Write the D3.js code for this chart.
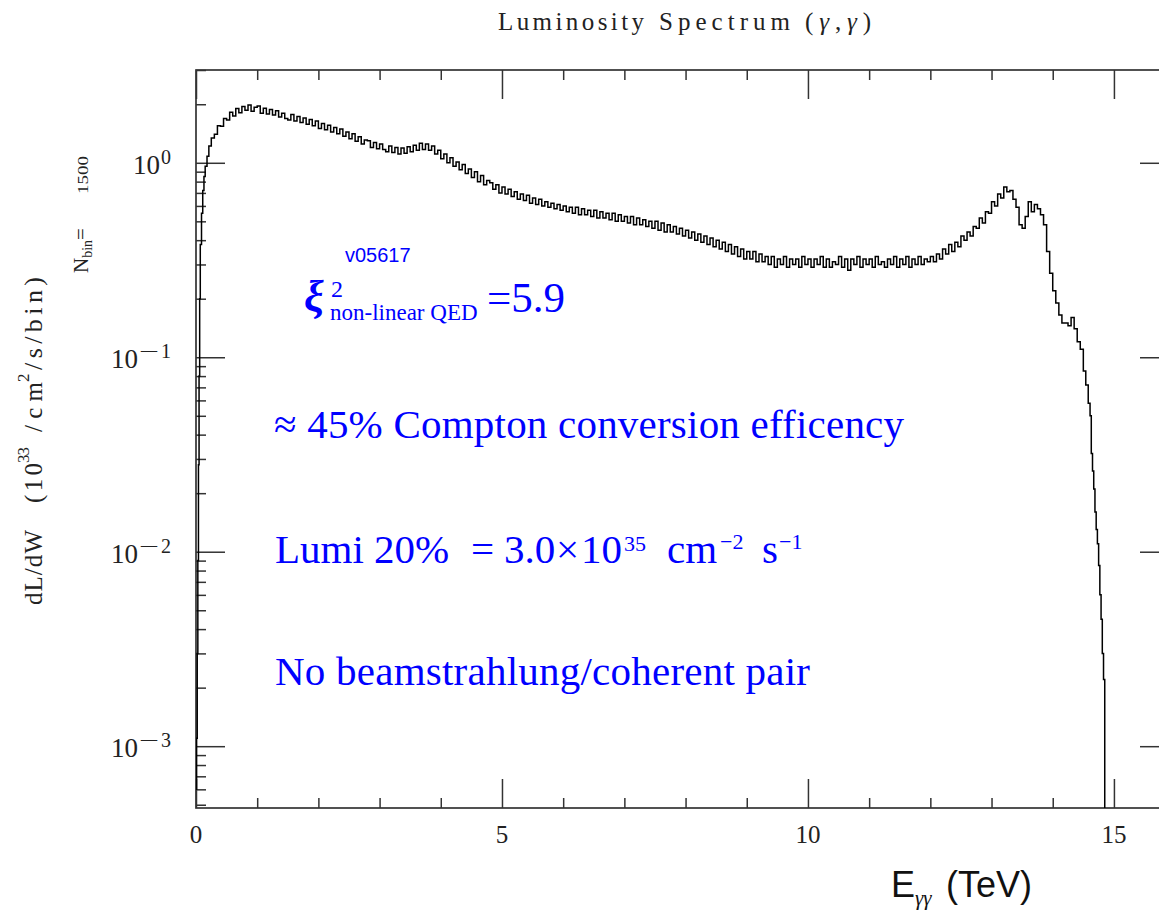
<!DOCTYPE html>
<html>
<head>
<meta charset="utf-8">
<script src="https://cdn.jsdelivr.net/npm/d3@7"></script>
<style>
  body { margin: 0; background: #fff; }
  svg { display: block; }
  text { white-space: pre; }
</style>
</head>
<body>
<svg id="chart" width="1159" height="910"></svg>
<script>
// Photon-photon luminosity spectrum dL/dW (10^33 /cm^2/s/bin) versus E_γγ (TeV)

// steep rise at threshold: bin low edges (TeV) and contents
const riseEnergy = [0, 0.01, 0.02, 0.03, 0.04, 0.05, 0.06, 0.07, 0.09, 0.11, 0.13, 0.15, 0.18, 0.21, 0.25];
const riseLumi   = [0.0006, 0.0011, 0.003, 0.009, 0.028, 0.08, 0.2, 0.38, 0.55, 0.72, 0.85, 0.96, 1.08, 1.22, 1.34];

// main body: uniform bins of 0.05 TeV starting at 0.30 TeV
const mainStart = 0.30;
const mainStep = 0.05;
const mainLumi = [
  1.40, 1.55, 1.54, 1.69, 1.66, 1.82, 1.74, 1.90, 1.81, 1.95,
  1.86, 1.98, 1.84, 1.93, 1.96, 1.80, 1.91, 1.78, 1.88, 1.76,
  1.85, 1.72, 1.80, 1.69, 1.66, 1.77, 1.64, 1.73, 1.61, 1.70,
  1.58, 1.67, 1.55, 1.64, 1.50, 1.59, 1.48, 1.56, 1.44, 1.52,
  1.41, 1.49, 1.37, 1.44, 1.33, 1.41, 1.29, 1.36, 1.25, 1.31,
  1.30, 1.20, 1.27, 1.18, 1.25, 1.17, 1.14, 1.22, 1.13, 1.20,
  1.11, 1.19, 1.12, 1.21, 1.14, 1.23, 1.16, 1.26, 1.17, 1.25,
  1.16, 1.22, 1.11, 1.16, 1.05, 1.11, 1.00, 1.06, 0.96, 1.01,
  0.92, 0.98, 0.88, 0.93, 0.84, 0.90, 0.80, 0.86, 0.77, 0.81,
  0.79, 0.73, 0.77, 0.70, 0.75, 0.69, 0.73, 0.67, 0.71, 0.65,
  0.69, 0.64, 0.68, 0.62, 0.66, 0.61, 0.65, 0.60, 0.63, 0.59,
  0.62, 0.58, 0.61, 0.57, 0.60, 0.56, 0.59, 0.55, 0.59, 0.54,
  0.58, 0.54, 0.57, 0.53, 0.57, 0.52, 0.56, 0.52, 0.55, 0.51,
  0.55, 0.50, 0.54, 0.50, 0.53, 0.49, 0.53, 0.48, 0.52, 0.48,
  0.51, 0.47, 0.50, 0.46, 0.50, 0.45, 0.49, 0.44, 0.48, 0.44,
  0.47, 0.43, 0.46, 0.42, 0.45, 0.41, 0.44, 0.40, 0.43, 0.39,
  0.42, 0.38, 0.41, 0.37, 0.40, 0.36, 0.39, 0.35, 0.38, 0.34,
  0.37, 0.33, 0.36, 0.32, 0.35, 0.32, 0.35, 0.31, 0.34, 0.31,
  0.33, 0.30, 0.33, 0.29, 0.32, 0.30, 0.33, 0.29, 0.32, 0.30,
  0.32, 0.29, 0.33, 0.30, 0.32, 0.29, 0.32, 0.30, 0.33, 0.29,
  0.32, 0.29, 0.31, 0.30, 0.33, 0.29, 0.32, 0.28, 0.32, 0.30,
  0.33, 0.29, 0.32, 0.30, 0.32, 0.29, 0.33, 0.30, 0.31, 0.29,
  0.32, 0.30, 0.33, 0.29, 0.32, 0.30, 0.33, 0.29, 0.32, 0.30,
  0.33, 0.30, 0.32, 0.31, 0.33, 0.31, 0.34, 0.32, 0.36, 0.34,
  0.38, 0.35, 0.39, 0.37, 0.42, 0.40, 0.44, 0.42, 0.47, 0.46,
  0.52, 0.49, 0.56, 0.55, 0.63, 0.60, 0.69, 0.66, 0.75, 0.71,
  0.72, 0.65, 0.59, 0.48, 0.46, 0.53, 0.63, 0.56, 0.61, 0.58,
  0.54, 0.48, 0.35, 0.27
];

// high-energy edge: bin low edges (TeV) and contents
const tailEnergy = [14.00, 14.05, 14.10, 14.15, 14.20, 14.25, 14.30, 14.35, 14.40, 14.45, 14.50, 14.54, 14.58,
                    14.61, 14.63, 14.65, 14.67, 14.69, 14.71, 14.73, 14.75, 14.77, 14.79, 14.81, 14.83, 14.85];
const tailLumi   = [0.22, 0.19, 0.165, 0.15, 0.15, 0.145, 0.16, 0.14, 0.12, 0.11, 0.085, 0.072, 0.058,
                    0.05, 0.032, 0.026, 0.021, 0.016, 0.013, 0.011, 0.0085, 0.006, 0.0045, 0.003, 0.0022, 0.00001];

const xDomain = [0, 15.9];
const yDomain = [4.81e-4, 3.0];
const xMajorTicks = [0, 5, 10, 15];
const xTickLabels = ["0", "5", "10", "15"];
const yExponents = [0, -1, -2, -3];

// ---------------------------------------------------------------------------
const svg = d3.select("#chart");
const plot = { left: 196, top: 70, right: 1169, bottom: 808 };
const axisColor = "#333";
const blue = "#0000ff";
const serif = "'Liberation Serif', 'Times New Roman', serif";
const sans = "'Liberation Sans', Arial, sans-serif";

const x = d3.scaleLinear().domain(xDomain).range([plot.left, plot.right]);
const y = d3.scaleLog().domain(yDomain).range([plot.bottom, plot.top]);

// assemble histogram bins
const bins = [];
riseEnergy.forEach((e, i) => bins.push({ e, v: riseLumi[i] }));
mainLumi.forEach((v, i) => bins.push({ e: +(mainStart + i * mainStep).toFixed(3), v }));
tailEnergy.forEach((e, i) => bins.push({ e, v: tailLumi[i] }));

svg.append("defs").append("clipPath").attr("id", "plotClip")
  .append("rect")
  .attr("x", plot.left).attr("y", plot.top)
  .attr("width", plot.right - plot.left).attr("height", plot.bottom - plot.top);

// ticks (inward-pointing) on all four sides
const yMinor = [];
for (let d = -4; d <= 0; d++) {
  for (let k = 2; k <= 9; k++) {
    const v = k * Math.pow(10, d);
    if (v >= yDomain[0] && v <= yDomain[1] + 1e-9) yMinor.push(v);
  }
}
const yMajor = yExponents.map(p => Math.pow(10, p));
const xMinor = d3.range(0, 16).filter(v => !xMajorTicks.includes(v));

function tickLayer(axis, tx, ty) {
  const g = svg.append("g").attr("transform", `translate(${tx},${ty})`).call(axis);
  g.select(".domain").remove();
  g.selectAll("text").remove();
  g.selectAll("line").attr("stroke", axisColor).attr("stroke-width", 1.5);
  return g;
}
tickLayer(d3.axisBottom(x).tickValues(xMinor).tickSize(-10).tickSizeOuter(0), 0, plot.bottom);
tickLayer(d3.axisBottom(x).tickValues(xMajorTicks).tickSize(-29).tickSizeOuter(0), 0, plot.bottom);
tickLayer(d3.axisTop(x).tickValues(xMinor).tickSize(-10).tickSizeOuter(0), 0, plot.top);
tickLayer(d3.axisTop(x).tickValues(xMajorTicks).tickSize(-29).tickSizeOuter(0), 0, plot.top);
tickLayer(d3.axisLeft(y).tickValues(yMinor).tickSize(-10).tickSizeOuter(0), plot.left, 0);
tickLayer(d3.axisLeft(y).tickValues(yMajor).tickSize(-29).tickSizeOuter(0), plot.left, 0);
tickLayer(d3.axisRight(y).tickValues(yMinor).tickSize(-10).tickSizeOuter(0), plot.right, 0);
tickLayer(d3.axisRight(y).tickValues(yMajor).tickSize(-29).tickSizeOuter(0), plot.right, 0);

// frame
svg.append("rect")
  .attr("x", plot.left).attr("y", plot.top)
  .attr("width", plot.right - plot.left).attr("height", plot.bottom - plot.top)
  .attr("fill", "none").attr("stroke", axisColor).attr("stroke-width", 1.7);

// histogram
const line = d3.line()
  .x(d => x(d.e))
  .y(d => y(Math.max(d.v, 1e-6)))
  .curve(d3.curveStepAfter);
svg.append("path")
  .datum(bins)
  .attr("clip-path", "url(#plotClip)")
  .attr("d", line)
  .attr("fill", "none")
  .attr("stroke", "#000")
  .attr("stroke-width", 1.5);

// x tick labels
svg.append("g").selectAll("text")
  .data(xMajorTicks)
  .join("text")
  .attr("x", d => x(d))
  .attr("y", plot.bottom + 35)
  .attr("text-anchor", "middle")
  .attr("font-family", serif)
  .attr("font-size", 25)
  .attr("fill", "#222")
  .text((d, i) => xTickLabels[i]);

// y tick labels: 10 with superscript exponent
const yLab = svg.append("g").attr("fill", "#222");
yExponents.forEach(p => {
  const ty = y(Math.pow(10, p));
  const digit = yLab.append("text")
    .attr("x", 171).attr("y", ty + 1)
    .attr("text-anchor", "end")
    .attr("font-family", serif)
    .attr("font-size", 20)
    .text(String(Math.abs(p)));
  let left = 171 - digit.node().getComputedTextLength();
  if (p < 0) {
    yLab.append("text")
      .attr("x", left - 2).attr("y", ty + 1)
      .attr("text-anchor", "end")
      .attr("font-family", serif)
      .attr("font-size", 20)
      .attr("textLength", 20)
      .attr("lengthAdjust", "spacingAndGlyphs")
      .text("\u2212");
    left = left - 2 - 20;
  }
  yLab.append("text")
    .attr("x", left - 1).attr("y", ty + 11)
    .attr("text-anchor", "end")
    .attr("font-family", serif)
    .attr("font-size", 27)
    .text("10");
});

// title, set word by word with open letter spacing
const titleWords = [
  { x: 498, len: 146, parts: [["Luminosity", false]] },
  { x: 659, len: 131, parts: [["Spectrum", false]] },
  { x: 805, len: 66, parts: [["(", false], ["\u03b3", true], [",", false], ["\u03b3", true], [")", false]] }
];
titleWords.forEach(w => {
  const t = svg.append("text")
    .attr("x", w.x).attr("y", 30)
    .attr("font-family", serif)
    .attr("font-size", 25)
    .attr("fill", "#222")
    .attr("textLength", w.len)
    .attr("lengthAdjust", "spacing");
  w.parts.forEach(([s, it]) => t.append("tspan").attr("font-style", it ? "italic" : "normal").text(s));
});

// y-axis title, pieces running bottom to top
function rotText(yStart, baseX, str, size, len) {
  svg.append("text")
    .attr("transform", `translate(${baseX},${yStart}) rotate(-90)`)
    .attr("font-family", serif)
    .attr("font-size", size)
    .attr("fill", "#222")
    .attr("textLength", len)
    .attr("lengthAdjust", "spacing")
    .text(str);
}
rotText(605, 42, "dL/dW", 25, 75);
rotText(503, 42, "(10", 25, 40);
rotText(463, 29, "33", 17, 16);
rotText(432, 42, "/cm", 25, 50);
rotText(382, 29, "2", 17, 11);
rotText(370, 42, "/s/bin)", 26, 93);

// number of bins
const nbin = svg.append("text")
  .attr("transform", "translate(88,273) rotate(-90)")
  .attr("font-family", serif)
  .attr("font-size", 21)
  .attr("fill", "#222");
nbin.append("tspan").text("N");
nbin.append("tspan").attr("font-size", 14).attr("dy", 4).text("bin");
nbin.append("tspan").attr("dy", -4).text("=");
svg.append("text")
  .attr("transform", "translate(88,194) rotate(-90)")
  .attr("font-family", serif)
  .attr("font-size", 15)
  .attr("fill", "#222")
  .attr("textLength", 38)
  .attr("lengthAdjust", "spacingAndGlyphs")
  .text("1500");

// x-axis title
const xTitle = svg.append("text")
  .attr("x", 891).attr("y", 897)
  .attr("font-family", sans)
  .attr("font-size", 36)
  .attr("fill", "#111");
xTitle.append("tspan").text("E");
xTitle.append("tspan").attr("font-family", serif).attr("font-style", "italic")
  .attr("font-size", 21).attr("dy", 8).text("\u03b3\u03b3");
xTitle.append("tspan").attr("x", 946).attr("dy", -8).text("(TeV)");

// annotations
const notes = svg.append("g").attr("fill", blue);
notes.append("text")
  .attr("x", 345).attr("y", 262)
  .attr("font-family", sans)
  .attr("font-size", 20)
  .text("v05617");
notes.append("text")
  .attr("x", 304).attr("y", 311)
  .attr("font-family", serif)
  .attr("font-size", 44).attr("font-weight", "bold").attr("font-style", "italic")
  .text("\u03be");
notes.append("text").attr("x", 331).attr("y", 297)
  .attr("font-family", serif).attr("font-size", 24).text("2");
notes.append("text").attr("x", 330).attr("y", 320)
  .attr("font-family", serif).attr("font-size", 23).text("non-linear QED");
notes.append("text").attr("x", 487).attr("y", 312)
  .attr("font-family", serif).attr("font-size", 43).text("=5.9");

notes.append("text")
  .attr("x", 274).attr("y", 438)
  .attr("font-family", serif)
  .attr("font-size", 41)
  .attr("textLength", 630)
  .attr("lengthAdjust", "spacing")
  .text("\u2248 45% Compton conversion efficency");

// luminosity line, laid out piece by piece like an equation
const lumiPieces = [
  { x: 275, dy: 0, size: 41, s: "Lumi 20%" },
  { x: 471, dy: 0, size: 41, s: "=" },
  { x: 504, dy: 0, size: 41, s: "3.0" },
  { x: 556, dy: 0, size: 41, s: "\u00d7" },
  { x: 581, dy: 0, size: 41, s: "10" },
  { x: 624, dy: -12, size: 22, s: "35" },
  { x: 667, dy: 0, size: 41, s: "cm" },
  { x: 720, dy: -14, size: 22, s: "\u22122" },
  { x: 762, dy: 0, size: 41, s: "s" },
  { x: 779, dy: -14, size: 22, s: "\u22121" }
];
notes.append("g").selectAll("text")
  .data(lumiPieces)
  .join("text")
  .attr("x", d => d.x)
  .attr("y", d => 563 + d.dy)
  .attr("font-family", serif)
  .attr("font-size", d => d.size)
  .text(d => d.s);

notes.append("text")
  .attr("x", 275).attr("y", 685)
  .attr("font-family", serif)
  .attr("font-size", 41)
  .attr("textLength", 535)
  .attr("lengthAdjust", "spacing")
  .text("No beamstrahlung/coherent pair");
</script>
</body>
</html>
